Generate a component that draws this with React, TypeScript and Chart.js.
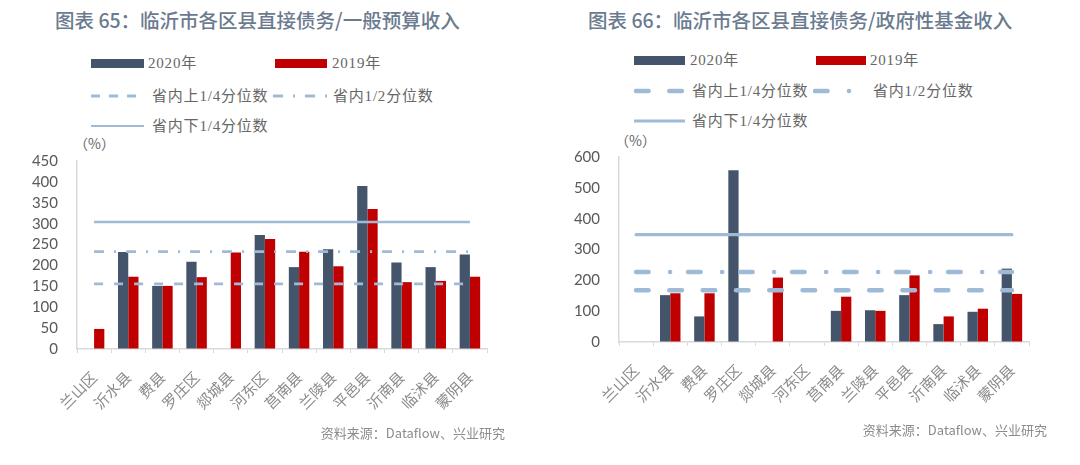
import React, { useEffect, useRef } from "react";
import { Chart, registerables } from "chart.js";

Chart.register(...registerables);

const categories = ["兰山区", "沂水县", "费县", "罗庄区", "郯城县", "河东区", "莒南县", "兰陵县", "平邑县", "沂南县", "临沭县", "蒙阴县"];

// 图表65：直接债务/一般预算收入 (%)
const budget2020 = [null, 232, 151, 209, null, 273, 196, 239, 390, 207, 196, 226];
const budget2019 = [48, 173, 151, 172, 231, 263, 233, 198, 335, 160, 163, 173];
const budgetUpperQuartile = 156;
const budgetMedian = 233;
const budgetLowerQuartile = 304;
const budgetTicks = { max: 450, step: 50 };

// 图表66：直接债务/政府性基金收入 (%)
const fund2020 = [null, 152, 83, 557, null, null, 101, 103, 152, 58, 98, 238];
const fund2019 = [null, 158, 158, null, 209, null, 147, 101, 216, 83, 108, 156];
const fundUpperQuartile = 168;
const fundMedian = 227;
const fundLowerQuartile = 348;
const fundTicks = { max: 600, step: 100 };

const legendLabels = ["2020年", "2019年", "省内上1/4分位数", "省内1/2分位数", "省内下1/4分位数"];

const C2020 = "#44546a";
const C2019 = "#c00000";
const CLINE = "#9fbad6";
const AXIS = "#d9d9d9";

type Cfg = {
  d2020: (number | null)[];
  d2019: (number | null)[];
  upper: number;
  median: number;
  lower: number;
  ticks: { max: number; step: number };
  lineWidth: number;
  solidWidth: number;
  dash: number[];
  dashDot: number[];
  cap: CanvasLineCap;
  area: { left: number; top: number; right: number; bottom: number };
  width: number;
  height: number;
};

function BarChart({ cfg }: { cfg: Cfg }) {
  const ref = useRef<HTMLCanvasElement>(null);
  useEffect(() => {
    if (!ref.current) return;
    const line = (label: string, v: number, dash: number[], width: number) => ({
      type: "line" as const,
      label,
      data: categories.map(() => v),
      borderColor: CLINE,
      backgroundColor: CLINE,
      borderWidth: width,
      borderDash: dash,
      borderCapStyle: cfg.cap,
      pointRadius: 0,
      fill: false,
      order: 0,
    });
    const chart = new Chart(ref.current, {
      type: "bar",
      data: {
        labels: categories,
        datasets: [
          line(legendLabels[2], cfg.upper, cfg.dash, cfg.lineWidth),
          line(legendLabels[3], cfg.median, cfg.dashDot, cfg.lineWidth),
          line(legendLabels[4], cfg.lower, [], cfg.solidWidth),
          {
            type: "bar" as const,
            label: legendLabels[0],
            data: cfg.d2020,
            backgroundColor: C2020,
            categoryPercentage: 0.6,
            barPercentage: 1,
            order: 1,
          },
          {
            type: "bar" as const,
            label: legendLabels[1],
            data: cfg.d2019,
            backgroundColor: C2019,
            categoryPercentage: 0.6,
            barPercentage: 1,
            order: 1,
          },
        ] as any,
      },
      options: {
        animation: false,
        responsive: false,
        maintainAspectRatio: false,
        layout: {
          autoPadding: false,
          padding: {
            left: 0,
            top: cfg.area.top,
            right: cfg.width - cfg.area.right,
            bottom: 0,
          },
        },
        plugins: { legend: { display: false }, tooltip: { enabled: false } },
        scales: {
          x: {
            offset: true,
            grid: { display: true, drawOnChartArea: false, drawTicks: true, tickLength: 4, color: AXIS, offset: true },
            border: { display: true, color: AXIS, width: 1.5 },
            ticks: {
              autoSkip: false,
              maxRotation: 45,
              minRotation: 45,
              padding: 15,
              color: "#8a8a8a",
              font: { family: "'Noto Sans CJK SC', sans-serif", size: 15 },
            },
            afterFit: (s: any) => {
              s.height = cfg.height - cfg.area.bottom;
            },
          },
          y: {
            min: 0,
            max: cfg.ticks.max,
            grid: { display: true, drawOnChartArea: false, drawTicks: true, tickLength: 16, color: "rgba(0,0,0,0)" },
            border: { display: true, color: AXIS, width: 1.5 },
            ticks: {
              autoSkip: false,
              stepSize: cfg.ticks.step,
              padding: 3,
              color: "#595959",
              font: { family: "Lato, 'Noto Sans', sans-serif", size: 15 },
            },
            afterFit: (s: any) => {
              s.width = cfg.area.left;
            },
          },
        },
      },
    });
    return () => chart.destroy();
  }, [cfg]);
  return <canvas ref={ref} width={cfg.width} height={cfg.height} style={{ width: cfg.width, height: cfg.height, display: "block" }} />;
}

const legendFont: React.CSSProperties = {
  fontFamily: "'Liberation Serif', 'Noto Sans CJK SC', serif",
  fontSize: 15,
  color: "#666",
  letterSpacing: 0.8,
  whiteSpace: "nowrap",
  lineHeight: "18px",
};

function Swatch({ x, y, w, kind, lw, dash, cap }: { x: number; y: number; w: number; kind: "bar2020" | "bar2019" | "line"; lw?: number; dash?: string; cap?: "butt" | "round" }) {
  if (kind !== "line") {
    return <div style={{ position: "absolute", left: x, top: y - 4.5, width: w, height: 9, background: kind === "bar2020" ? C2020 : C2019 }} />;
  }
  return (
    <svg style={{ position: "absolute", left: x, top: y - 5 }} width={w + 4} height={10}>
      <line x1={cap === "round" ? 2 : 0} y1={5} x2={w} y2={5} stroke={CLINE} strokeWidth={lw} strokeDasharray={dash} strokeLinecap={cap} />
    </svg>
  );
}

function Text({ x, y, children, style }: { x: number; y: number; children: React.ReactNode; style?: React.CSSProperties }) {
  return <div style={{ position: "absolute", left: x, top: y - 9, ...legendFont, ...style }}>{children}</div>;
}

const leftCfg: Cfg = {
  d2020: budget2020,
  d2019: budget2019,
  upper: budgetUpperQuartile,
  median: budgetMedian,
  lower: budgetLowerQuartile,
  ticks: budgetTicks,
  lineWidth: 2.8,
  solidWidth: 2.4,
  dash: [9, 11],
  dashDot: [10, 10, 2, 10],
  cap: "butt",
  area: { left: 77, top: 21, right: 487, bottom: 209 },
  width: 540,
  height: 300,
};

const rightCfg: Cfg = {
  d2020: fund2020,
  d2019: fund2019,
  upper: fundUpperQuartile,
  median: fundMedian,
  lower: fundLowerQuartile,
  ticks: fundTicks,
  lineWidth: 4.6,
  solidWidth: 3.2,
  dash: [12.5, 20.8],
  dashDot: [12.5, 21.5, 0.01, 18],
  cap: "round",
  area: { left: 79, top: 17, right: 489, bottom: 202 },
  width: 540,
  height: 300,
};

const titleStyle: React.CSSProperties = {
  position: "absolute",
  fontFamily: "'Noto Sans CJK SC', sans-serif",
  fontSize: 19.5,
  fontWeight: 500,
  color: "#6b7b8f",
  whiteSpace: "nowrap",
  lineHeight: "24px",
};

const sourceStyle: React.CSSProperties = {
  position: "absolute",
  fontFamily: "'Noto Sans CJK SC', sans-serif",
  fontSize: 13,
  color: "#8c8c8c",
  whiteSpace: "nowrap",
  lineHeight: "16px",
};

export default function App() {
  return (
    <div style={{ position: "absolute", left: 0, top: 0, width: 1080, height: 465, background: "#fff", overflow: "hidden" }}>
      {/* Left panel */}
      <div style={{ ...titleStyle, left: 55, top: 8 }}>图表 65：临沂市各区县直接债务/一般预算收入</div>
      <Swatch x={91} y={63} w={53} kind="bar2020" />
      <Text x={148} y={63}>{legendLabels[0]}</Text>
      <Swatch x={275} y={63} w={52} kind="bar2019" />
      <Text x={332} y={63}>{legendLabels[1]}</Text>
      <Swatch x={91} y={96} w={52} kind="line" lw={2.8} dash="9 9" />
      <Text x={152} y={96}>{legendLabels[2]}</Text>
      <Swatch x={273} y={96} w={56} kind="line" lw={2.8} dash="10 10 2 10" />
      <Text x={333} y={96}>{legendLabels[3]}</Text>
      <Swatch x={91} y={126} w={53} kind="line" lw={2.2} />
      <Text x={152} y={126}>{legendLabels[4]}</Text>
      <Text x={74} y={143} style={{ fontFamily: "'Noto Sans CJK SC', sans-serif", fontSize: 14, letterSpacing: 0 }}>（%）</Text>
      <div style={{ position: "absolute", left: 0, top: 140 }}>
        <BarChart cfg={leftCfg} />
      </div>
      <div style={{ ...sourceStyle, right: 1080 - 505, top: 425 }}>资料来源：Dataflow、兴业研究</div>

      {/* Right panel */}
      <div style={{ ...titleStyle, left: 588, top: 8 }}>图表 66：临沂市各区县直接债务/政府性基金收入</div>
      <Swatch x={634} y={60} w={51} kind="bar2020" />
      <Text x={690} y={60}>{legendLabels[0]}</Text>
      <Swatch x={816} y={60} w={50} kind="bar2019" />
      <Text x={870} y={60}>{legendLabels[1]}</Text>
      <Swatch x={634} y={91} w={50} kind="line" lw={4.6} dash="12.5 20.8" cap="round" />
      <Text x={692} y={91}>{legendLabels[2]}</Text>
      <Swatch x={813} y={91} w={42} kind="line" lw={4.6} dash="12.5 21.5 0.01 18" cap="round" />
      <Text x={873} y={91}>{legendLabels[3]}</Text>
      <Swatch x={634} y={121} w={51} kind="line" lw={3.2} />
      <Text x={692} y={121}>{legendLabels[4]}</Text>
      <Text x={615} y={140} style={{ fontFamily: "'Noto Sans CJK SC', sans-serif", fontSize: 14, letterSpacing: 0 }}>（%）</Text>
      <div style={{ position: "absolute", left: 540, top: 140 }}>
        <BarChart cfg={rightCfg} />
      </div>
      <div style={{ ...sourceStyle, right: 1080 - 1047, top: 422 }}>资料来源：Dataflow、兴业研究</div>
    </div>
  );
}
